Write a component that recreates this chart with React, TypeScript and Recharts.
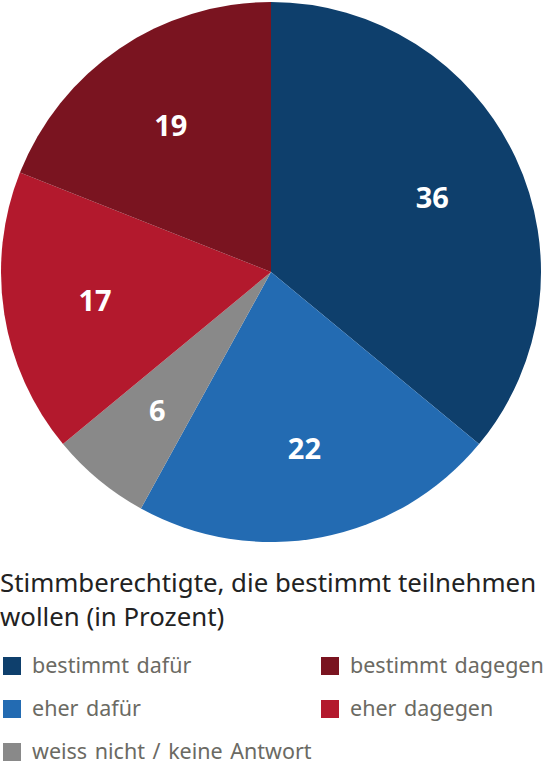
import React from "react";
import { PieChart, Pie, Cell } from "recharts";

const categories = ["bestimmt dafür", "eher dafür", "weiss nicht / keine Antwort", "eher dagegen", "bestimmt dagegen"];
const values = [36, 22, 6, 17, 19];
const colors = ["#0e3f6c", "#236bb2", "#898989", "#b3192d", "#7a1420"];
// legend is laid out in two columns, row by row
const legendOrder = [0, 4, 1, 3, 2];

const data = categories.map((name, i) => ({ name, value: values[i] }));

const RADIAN = Math.PI / 180;

const renderLabel = (props: any) => {
  const { cx, cy, midAngle, outerRadius, value } = props;
  const r = outerRadius * 0.66;
  const x = cx + r * Math.cos(-midAngle * RADIAN);
  const y = cy + r * Math.sin(-midAngle * RADIAN);
  return (
    <text
      x={x}
      y={y}
      fill="#ffffff"
      textAnchor="middle"
      dominantBaseline="central"
      fontFamily="'Noto Sans', sans-serif"
      fontWeight="bold"
      fontSize={29}
    >
      {value}
    </text>
  );
};

const App: React.FC = () => {
  return (
    <div style={{ position: "absolute", left: 0, top: 0, width: 544, height: 775, fontFamily: "'Noto Sans', sans-serif" }}>
      <PieChart width={544} height={545} margin={{ top: 0, right: 0, bottom: 0, left: 0 }}>
        <Pie
          data={data}
          dataKey="value"
          nameKey="name"
          cx={271}
          cy={272}
          outerRadius={270}
          startAngle={90}
          endAngle={-270}
          stroke="none"
          label={renderLabel}
          labelLine={false}
          isAnimationActive={false}
        >
          {data.map((d, i) => (
            <Cell key={d.name} fill={colors[i]} />
          ))}
        </Pie>
      </PieChart>
      <div style={{ position: "absolute", left: 0, top: 565, width: 544, fontSize: 25.8, lineHeight: "34px", color: "#222222", whiteSpace: "nowrap" }}>
        Stimmberechtigte, die bestimmt teilnehmen
        <br />
        wollen (in Prozent)
      </div>
      <div style={{ position: "absolute", left: 0, top: 649, width: 544, display: "flex", flexWrap: "wrap" }}>
        {legendOrder.map((i) => (
          <div key={categories[i]} style={{ width: i === 2 ? 544 : (i === 4 || i === 3 ? 226 : 318), height: 43, display: "flex", alignItems: "flex-start", whiteSpace: "nowrap" }}>
            <div style={{ width: 18, height: 18, marginLeft: 3, marginTop: 8, background: colors[i], flexShrink: 0 }} />
            <span style={{ marginLeft: 11, fontSize: 21.5, wordSpacing: 2, lineHeight: "32px", color: "#6b6a63" }}>{categories[i]}</span>
          </div>
        ))}
      </div>
    </div>
  );
};

export default App;
